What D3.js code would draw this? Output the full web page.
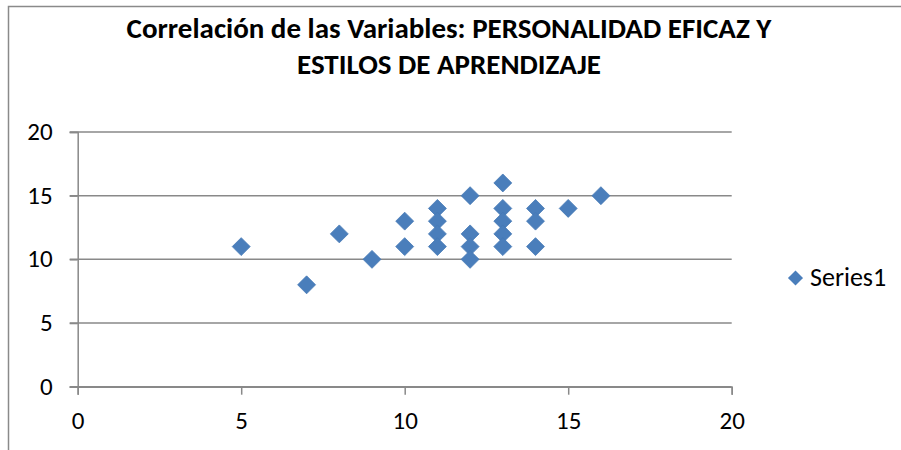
<!DOCTYPE html>
<html>
<head>
<meta charset="utf-8">
<script src="https://cdn.jsdelivr.net/npm/d3@7"></script>
<style>
  body { margin: 0; background: #fff; }
  svg { display: block; }
  text { font-family: Carlito, "Liberation Sans Narrow", "Liberation Sans", sans-serif; fill: #000; }
</style>
</head>
<body>
<svg width="901" height="450"></svg>
<script>
// data
var titleLines = ["Correlación de las Variables: PERSONALIDAD EFICAZ Y", "ESTILOS DE APRENDIZAJE"]
var seriesName = "Series1"
var xVals = [5, 7, 8, 9, 10, 10, 11, 11, 11, 11, 12, 12, 12, 12, 13, 13, 13, 13, 13, 14, 14, 14, 15, 16]
var yVals = [11, 8, 12, 10, 13, 11, 14, 13, 12, 11, 15, 12, 11, 10, 16, 14, 13, 12, 11, 14, 13, 11, 14, 15]
var xTicks = [0, 5, 10, 15, 20]
var yTicks = [0, 5, 10, 15, 20]

var svg = d3.select("svg")
var gridColor = "#898989"
var blue = "#4a7ebb"
var labelFont = "25px"

// outer chart frame (clipped at right / bottom like the screenshot)
svg.append("path")
    .attr("d", "M8.5,460 V6.5 H910")
    .attr("fill", "none")
    .attr("stroke", "#8a8a8a")
    .attr("stroke-width", 1.5)

var x = d3.scaleLinear().domain([0, 20]).range([77.7, 731.7])
var y = d3.scaleLinear().domain([0, 20]).range([386.7, 132])

// title
svg.append("g").selectAll("text")
    .data(titleLines)
  .enter().append("text")
    .attr("x", 449)
    .attr("y", function(d, i) { return 38 + i * 36 })
    .attr("text-anchor", "middle")
    .attr("font-weight", "bold")
    .attr("font-size", "29px")
    .text(function(d) { return d })

// gridlines
svg.append("g").selectAll("line")
    .data(yTicks)
  .enter().append("line")
    .attr("x1", x(0) - 8).attr("x2", x(20))
    .attr("y1", function(d) { return y(d) }).attr("y2", function(d) { return y(d) })
    .attr("stroke", gridColor).attr("stroke-width", 1.5)

// y axis
var yAxis = svg.append("g")
    .attr("transform", "translate(" + x(0) + ",0)")
    .call(d3.axisLeft(y).tickValues(yTicks).tickSize(8).tickPadding(17))
yAxis.select(".domain").attr("stroke", gridColor).attr("stroke-width", 1.5)
yAxis.selectAll(".tick line").attr("stroke", gridColor).attr("stroke-width", 1.5)
yAxis.selectAll("text").attr("font-size", labelFont).attr("font-family", "Carlito, 'Liberation Sans', sans-serif").attr("dy", "0.3em")

// x axis
var xAxis = svg.append("g")
    .attr("transform", "translate(0," + y(0) + ")")
    .call(d3.axisBottom(x).tickValues(xTicks).tickSize(8))
xAxis.select(".domain").attr("stroke", gridColor).attr("stroke-width", 1.5)
xAxis.selectAll(".tick line").attr("stroke", gridColor).attr("stroke-width", 1.5)
xAxis.selectAll("text").attr("font-size", labelFont).attr("font-family", "Carlito, 'Liberation Sans', sans-serif").attr("y", 42).attr("dy", 0)

// points
var diamond = d3.symbol().type(d3.symbolDiamond2).size(205)
svg.append("g").selectAll("path")
    .data(xVals.map(function(d, i) { return {x: d, y: yVals[i]} }))
  .enter().append("path")
    .attr("d", diamond)
    .attr("transform", function(d) { return "translate(" + x(d.x) + "," + y(d.y) + ")" })
    .attr("fill", blue)
    .attr("stroke", "#4579b5")
    .attr("stroke-width", 0.8)

// legend
var legend = svg.append("g").attr("transform", "translate(795.5,278)")
legend.append("path")
    .attr("d", d3.symbol().type(d3.symbolDiamond2).size(145))
    .attr("fill", blue)
legend.append("text")
    .attr("x", 14.5)
    .attr("y", 8)
    .attr("font-size", "26px")
    .attr("font-family", "Carlito, 'Liberation Sans', sans-serif")
    .text(seriesName)
</script>
</body>
</html>
